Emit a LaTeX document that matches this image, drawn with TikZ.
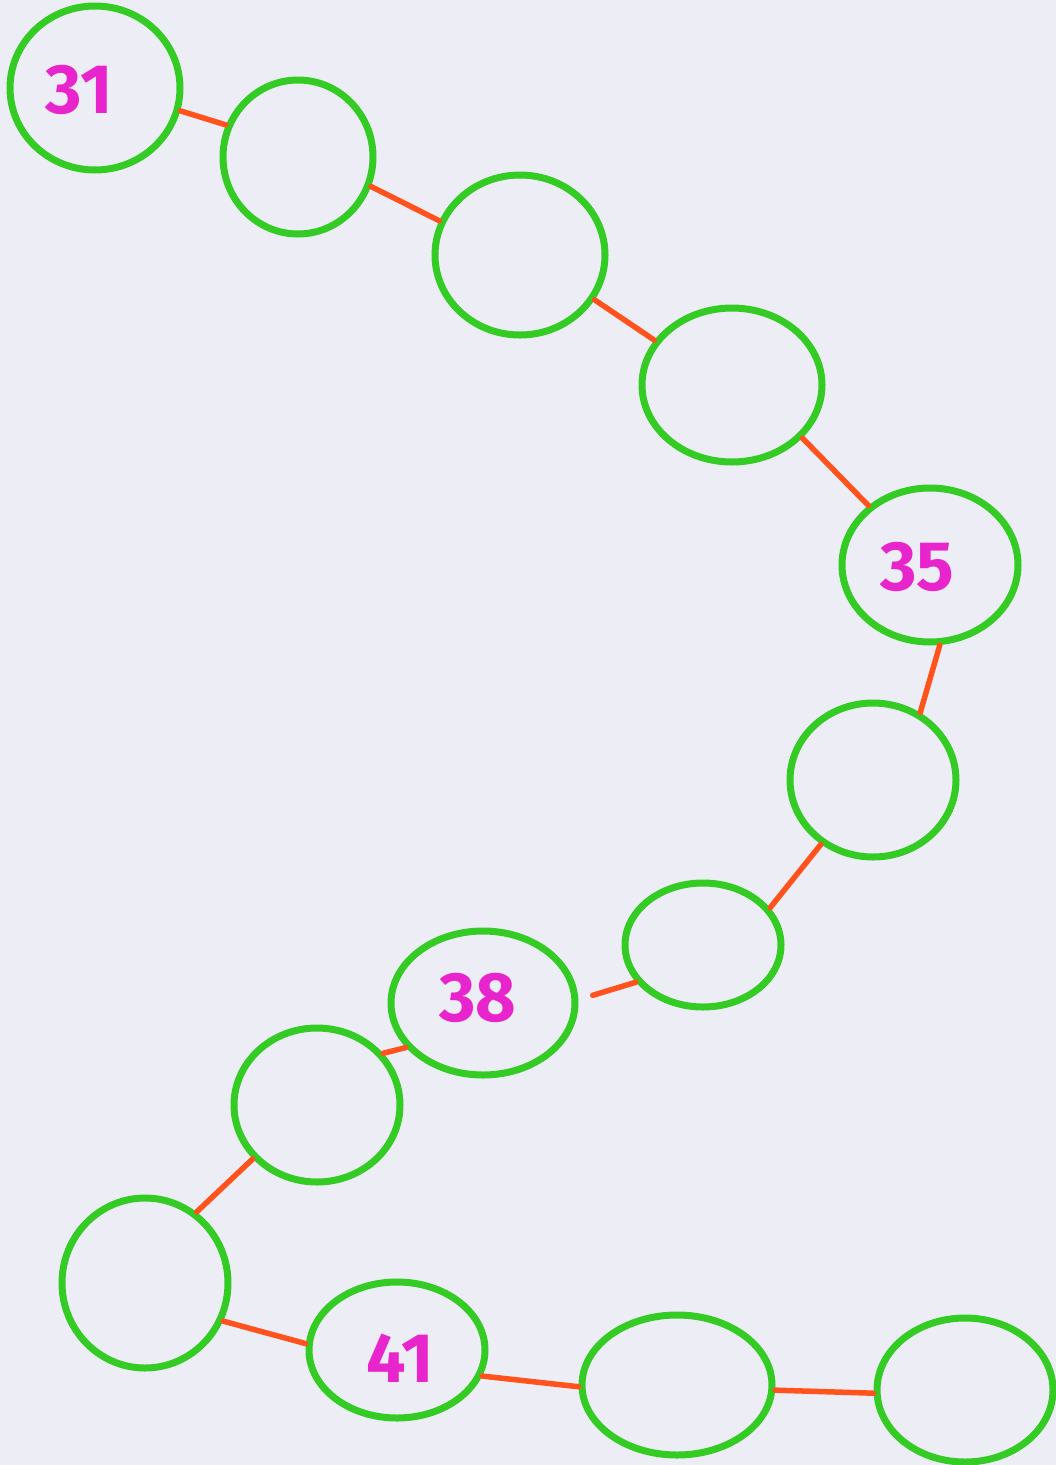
\documentclass[tikz,border=0pt]{standalone}
\usepackage{fontspec}
\setmainfont{Fira Sans}
\usetikzlibrary{shapes.geometric}
\definecolor{bg}{RGB}{237,237,246}
\definecolor{beadgreen}{RGB}{52,204,36}
\definecolor{linkred}{RGB}{255,82,28}
\definecolor{numpink}{RGB}{232,36,204}
\tikzset{
  bead/.style={ellipse, draw=beadgreen, line width=7pt, inner sep=0pt},
  link/.style={draw=linkred, line width=5.5pt, line cap=round},
  num/.style={text=numpink, font=\fontsize{70}{70}\selectfont\bfseries}
}
\begin{document}
\begin{tikzpicture}[x=1pt,y=-1pt]
\fill[bg] (0,0) rectangle (1056,1465);
\useasboundingbox (0,0) rectangle (1056,1465);
% beads
\node[bead, minimum width=170pt, minimum height=164pt] (n1) at (95,88) {};
\node[bead, minimum width=150pt, minimum height=154pt] (n2) at (298,157) {};
\node[bead, minimum width=170pt, minimum height=160pt] (n3) at (520,255) {};
\node[bead, minimum width=180pt, minimum height=154pt] (n4) at (732,385) {};
\node[bead, minimum width=176pt, minimum height=154pt] (n5) at (930,565) {};
\node[bead, minimum width=166pt, minimum height=154pt] (n6) at (873,780) {};
\node[bead, minimum width=156pt, minimum height=124pt] (n7) at (703,945) {};
\node[bead, minimum width=184pt, minimum height=144pt] (n8) at (483,1003) {};
\node[bead, minimum width=166pt, minimum height=154pt] (n9) at (317,1105) {};
\node[bead, minimum width=166pt, minimum height=170pt] (n10) at (145,1283) {};
\node[bead, minimum width=176pt, minimum height=136pt] (n11) at (397,1350) {};
\node[bead, minimum width=190pt, minimum height=140pt] (n12) at (677,1385) {};
\node[bead, minimum width=176pt, minimum height=144pt] (n13) at (965,1390) {};
% labels
\node[num] (t31) at (79,90) {31};
\node[num] (t35) at (917,567) {35};
\node[num] (t38) at (478,998) {38};
\node[num] (t41) at (400,1358) {41};
% links
\draw[link] (n1.-15.8) -- (n2.156);
\draw[link] (n2.-22.7) -- (n3.157.6);
\draw[link] (n3.-31) -- (n4.150);
\draw[link] (n4.-37) -- (n5.136.5);
\draw[link] (n5.-83) -- (n6.55);
\draw[link] (n6.231) -- (n7.29.7);
\draw[link, shorten >=15pt] (n7.209) -- (n8.2);
\draw[link] (n8.210) -- (n9.38);
\draw[link] (n9.220.5) -- (n10.54.8);
\draw[link] (n10.-26.8) -- (n11.176.8);
\draw[link] (n11.-17.6) -- (n12.181.8);
\draw[link] (n12.-3) -- (n13.182);
\end{tikzpicture}
\end{document}
